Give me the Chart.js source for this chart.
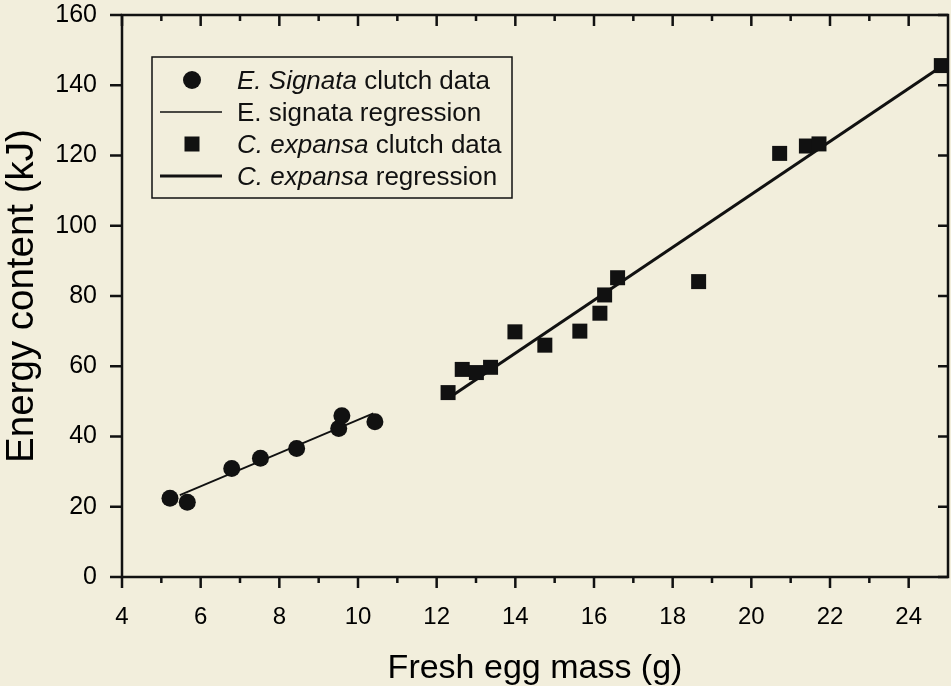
<!DOCTYPE html>
<html>
<head>
<meta charset="utf-8">
<script src="https://cdn.jsdelivr.net/npm/chart.js@4.4.1/dist/chart.umd.min.js"></script>
<style>
  html, body { margin: 0; padding: 0; background: #f2eedc; }
  #wrap { width: 951px; height: 686px; }
</style>
</head>
<body>
<div id="wrap"><canvas id="eggChart" width="951" height="686"></canvas></div>
<script>
// values
const signataMass = [5.22, 5.66, 6.79, 7.52, 8.44, 9.51, 9.59, 10.43];
const signataEnergy = [22.4, 21.3, 30.9, 33.8, 36.6, 42.3, 45.9, 44.2];
const signataFitMass = [5.47, 10.39];
const signataFitEnergy = [23.3, 46.6];

const expansaMass = [12.29, 12.65, 13.01, 13.37, 13.99, 14.75, 15.64, 16.15, 16.27, 16.60, 18.66, 20.72, 21.40, 21.72, 24.83];
const expansaEnergy = [52.5, 59.1, 58.2, 59.7, 69.8, 66.0, 70.0, 75.1, 80.3, 85.2, 84.1, 120.6, 122.7, 123.3, 145.6];
const expansaFitMass = [12.42, 24.85];
const expansaFitEnergy = [51.8, 145.5];

const xTickValues = [4, 6, 8, 10, 12, 14, 16, 18, 20, 22, 24];
const xMinorTicks = [5, 7, 9, 11, 13, 15, 17, 19, 21, 23];
const yTickValues = [0, 20, 40, 60, 80, 100, 120, 140, 160];

const legendEntries = [
  { marker: 'circle', italic: 'E. Signata', plain: ' clutch data' },
  { marker: 'thin', italic: '', plain: 'E. signata regression' },
  { marker: 'square', italic: 'C. expansa', plain: ' clutch data' },
  { marker: 'thick', italic: 'C. expansa', plain: ' regression' },
];

const FONT = "'Liberation Sans', Arial, Helvetica, sans-serif";
const INK = '#111111';

const toPoints = (xs, ys) => xs.map((x, i) => ({ x: x, y: ys[i] }));

// frame, tick marks and the boxed legend
const decorations = {
  id: 'decorations',
  beforeDraw(chart) {
    const ctx = chart.ctx;
    ctx.save();
    ctx.fillStyle = '#f2eedc';
    ctx.fillRect(0, 0, chart.width, chart.height);
    ctx.restore();
  },
  afterDraw(chart) {
    const ctx = chart.ctx;
    const a = chart.chartArea;
    const xs = chart.scales.x;
    const ys = chart.scales.y;
    ctx.save();
    ctx.strokeStyle = INK;
    ctx.lineWidth = 2.5;
    ctx.strokeRect(a.left, a.top, a.right - a.left, a.bottom - a.top);

    ctx.beginPath();
    xTickValues.forEach(v => {
      const px = xs.getPixelForValue(v);
      ctx.moveTo(px, a.bottom); ctx.lineTo(px, a.bottom + 11);
      ctx.moveTo(px, a.top); ctx.lineTo(px, a.top + 11);
    });
    xMinorTicks.forEach(v => {
      const px = xs.getPixelForValue(v);
      ctx.moveTo(px, a.bottom); ctx.lineTo(px, a.bottom + 6);
      ctx.moveTo(px, a.top); ctx.lineTo(px, a.top + 6);
    });
    yTickValues.forEach(v => {
      const py = ys.getPixelForValue(v);
      ctx.moveTo(a.left - 12, py); ctx.lineTo(a.left, py);
      ctx.moveTo(a.right, py); ctx.lineTo(a.right - 10, py);
    });
    ctx.stroke();

    // legend
    const bx = a.left + 30, by = a.top + 42, bw = 360, bh = 141;
    ctx.lineWidth = 1.5;
    ctx.strokeRect(bx, by, bw, bh);
    const rowH = 32;
    const fontSize = 26;
    legendEntries.forEach((e, i) => {
      const cy = by + 23 + i * rowH;
      const mx = bx + 40;
      ctx.fillStyle = INK;
      if (e.marker === 'circle') {
        ctx.beginPath(); ctx.arc(mx, cy, 9, 0, Math.PI * 2); ctx.fill();
      } else if (e.marker === 'square') {
        ctx.fillRect(mx - 7.5, cy - 7.5, 15, 15);
      } else {
        ctx.lineWidth = e.marker === 'thin' ? 1.6 : 3;
        ctx.beginPath(); ctx.moveTo(bx + 8, cy); ctx.lineTo(bx + 70, cy); ctx.stroke();
      }
      let tx = bx + 85;
      const base = cy + 9;
      ctx.textBaseline = 'alphabetic';
      ctx.textAlign = 'left';
      if (e.italic) {
        ctx.font = 'italic ' + fontSize + 'px ' + FONT;
        ctx.fillText(e.italic, tx, base);
        tx += ctx.measureText(e.italic).width;
      }
      ctx.font = fontSize + 'px ' + FONT;
      ctx.fillText(e.plain, tx, base);
    });
    ctx.restore();
  }
};

new Chart(document.getElementById('eggChart'), {
  type: 'scatter',
  data: {
    datasets: [
      {
        label: 'E. Signata clutch data',
        data: toPoints(signataMass, signataEnergy),
        pointStyle: 'circle',
        pointRadius: 8.5,
        pointHoverRadius: 8.5,
        backgroundColor: INK,
        borderColor: INK,
        borderWidth: 0,
      },
      {
        label: 'E. signata regression',
        type: 'line',
        data: toPoints(signataFitMass, signataFitEnergy),
        borderColor: INK,
        borderWidth: 1.8,
        pointRadius: 0,
        fill: false,
      },
      {
        label: 'C. expansa clutch data',
        data: toPoints(expansaMass, expansaEnergy),
        pointStyle: 'rect',
        pointRadius: 10.6,
        pointHoverRadius: 10.6,
        backgroundColor: INK,
        borderColor: INK,
        borderWidth: 0,
      },
      {
        label: 'C. expansa regression',
        type: 'line',
        data: toPoints(expansaFitMass, expansaFitEnergy),
        borderColor: INK,
        borderWidth: 3,
        pointRadius: 0,
        fill: false,
      },
    ],
  },
  options: {
    responsive: false,
    animation: false,
    layout: { autoPadding: false, padding: { left: 0, top: 15, right: 3, bottom: 0 } },
    plugins: {
      legend: { display: false },
      title: { display: false },
      tooltip: { enabled: false },
    },
    scales: {
      x: {
        type: 'linear',
        min: 4,
        max: 25,
        afterBuildTicks: scale => { scale.ticks = xTickValues.map(v => ({ value: v })); },
        afterFit: scale => { scale.height = 109; scale.paddingLeft = 0; scale.paddingRight = 0; },
        grid: { display: false, drawTicks: false },
        border: { display: false },
        ticks: { color: '#000', padding: 26, maxRotation: 0, font: { family: FONT, size: 24 } },
        title: {
          display: true,
          text: 'Fresh egg mass (g)',
          color: '#000',
          padding: { top: 0, bottom: 0 },
          font: { family: FONT, size: 34, lineHeight: 1 },
        },
      },
      y: {
        type: 'linear',
        min: 0,
        max: 160,
        afterBuildTicks: scale => { scale.ticks = yTickValues.map(v => ({ value: v })); },
        afterFit: scale => { scale.width = 122; scale.paddingTop = 0; scale.paddingBottom = 0; },
        grid: { display: false, drawTicks: false },
        border: { display: false },
        ticks: { color: '#000', padding: 25, font: { family: FONT, size: 25 } },
        title: {
          display: true,
          text: 'Energy content (kJ)',
          color: '#000',
          padding: { top: 3, bottom: 0 },
          font: { family: FONT, size: 38.5, lineHeight: 1 },
        },
      },
    },
  },
  plugins: [decorations],
});
</script>
</body>
</html>
